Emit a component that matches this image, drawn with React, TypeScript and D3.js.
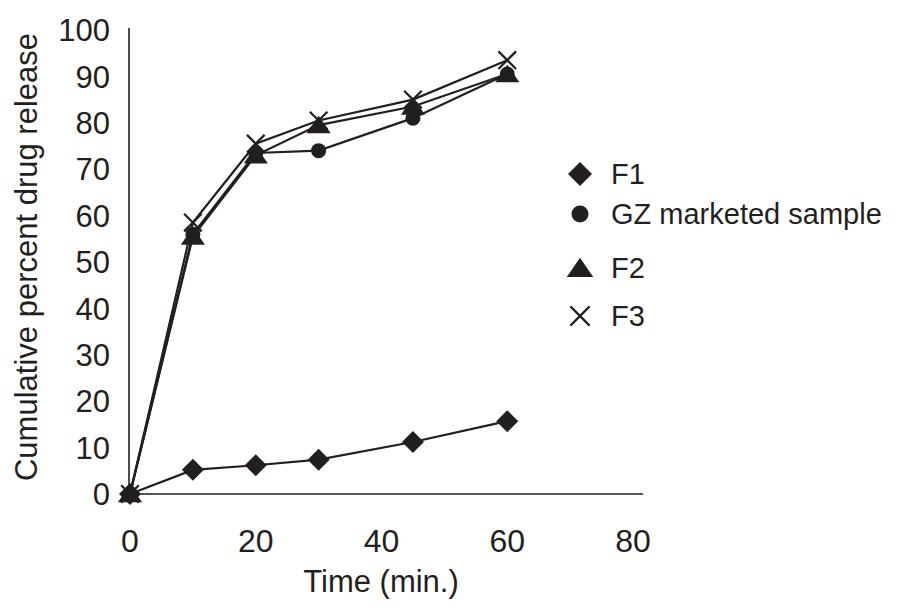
import React, { useEffect, useRef } from 'react'
import * as d3 from 'd3'

// time points (min.)
const times = [0, 10, 20, 30, 45, 60]

// cumulative percent drug release per formulation
const f1 = [0, 5.2, 6.2, 7.4, 11.2, 15.7]
const gz = [0, 56, 73.5, 74, 81, 90.5]
const f2 = [0, 55.5, 73, 79.5, 83.5, 90.5]
const f3 = [0, 58.5, 75.5, 80.5, 85, 93.5]

const seriesNames = ['F1', 'GZ marketed sample', 'F2', 'F3']
const seriesValues = [f1, gz, f2, f3]
const seriesMarkers = ['diamond', 'circle', 'triangle', 'cross']

const xTicks = [0, 20, 40, 60, 80]
const yTicks = [0, 10, 20, 30, 40, 50, 60, 70, 80, 90, 100]

const ink = '#231f20'
const font = '"Liberation Sans", Arial, sans-serif'

// marker path, centred on 0,0
const markerPath = (kind: string, s: number) => {
    if (kind === 'diamond') return `M0,${-s}L${s},0L0,${s}L${-s},0Z`
    if (kind === 'triangle') return `M0,${-s * 0.85}L${s * 1.1},${s * 0.75}L${-s * 1.1},${s * 0.75}Z`
    if (kind === 'cross') return `M${-s * 0.8},${-s * 0.8}L${s * 0.8},${s * 0.8}M${s * 0.8},${-s * 0.8}L${-s * 0.8},${s * 0.8}`
    return d3.symbol(d3.symbolCircle, Math.PI * s * s)() as string
}

const drawMarker = (g: any, kind: string, s: number) => {
    const p = g.append('path').attr('d', markerPath(kind, s))
    if (kind === 'cross') {
        p.attr('fill', 'none').attr('stroke', ink).attr('stroke-width', 2.2)
    } else {
        p.attr('fill', ink)
    }
}

export default function App() {
    const ref = useRef<SVGSVGElement>(null)

    useEffect(() => {
        const svg = d3.select(ref.current)
        svg.selectAll('*').remove()

        const margin = { top: 30, left: 130, bottom: 115 }

        // scales
        const x = d3.scaleLinear().domain([0, 80]).range([margin.left, 633])
        const y = d3.scaleLinear().domain([0, 100]).range([494, margin.top])

        // axis lines
        svg.append('line')
            .attr('x1', x(0) - 1).attr('x2', x(0) - 1)
            .attr('y1', y(100) - 2).attr('y2', y(0))
            .attr('stroke', ink).attr('stroke-width', 1.6)
        svg.append('line')
            .attr('x1', x(0) - 1).attr('x2', x(80) + 10)
            .attr('y1', y(0)).attr('y2', y(0))
            .attr('stroke', ink).attr('stroke-width', 1.6)

        // tick labels
        svg.append('g').selectAll('text')
            .data(xTicks)
            .enter().append('text')
            .attr('x', d => x(d))
            .attr('y', 552)
            .attr('text-anchor', 'middle')
            .attr('font-size', 32)
            .attr('font-family', font)
            .attr('fill', ink)
            .text(d => d)

        svg.append('g').selectAll('text')
            .data(yTicks)
            .enter().append('text')
            .attr('x', 110)
            .attr('y', d => y(d))
            .attr('dy', '0.36em')
            .attr('text-anchor', 'end')
            .attr('font-size', 31)
            .attr('font-family', font)
            .attr('fill', ink)
            .text(d => d)

        // axis titles
        svg.append('text')
            .attr('x', 381).attr('y', 592)
            .attr('text-anchor', 'middle')
            .attr('font-size', 31)
            .attr('font-family', font)
            .attr('fill', ink)
            .text('Time (min.)')

        svg.append('text')
            .attr('transform', 'translate(37, 257) rotate(-90)')
            .attr('text-anchor', 'middle')
            .attr('font-size', 31)
            .attr('font-family', font)
            .attr('fill', ink)
            .text('Cumulative percent drug release')

        // line generator
        const line = d3.line<number>()
            .x((d, i) => x(times[i]))
            .y(d => y(d))

        seriesValues.forEach((vals, k) => {
            const g = svg.append('g')
            g.append('path')
                .attr('d', line(vals))
                .attr('fill', 'none')
                .attr('stroke', ink)
                .attr('stroke-width', 2.2)

            const size = seriesMarkers[k] === 'circle' ? 7.5 : 11
            vals.forEach((v, i) => {
                const m = g.append('g').attr('transform', `translate(${x(times[i])}, ${y(v)})`)
                drawMarker(m, seriesMarkers[k], size)
            })
        })

        // legend
        const legendRows = [174, 214, 268, 316]
        seriesNames.forEach((name, k) => {
            const row = svg.append('g').attr('transform', `translate(580, ${legendRows[k]})`)
            const size = seriesMarkers[k] === 'circle' ? 8.5 : 12
            drawMarker(row, seriesMarkers[k], size)
            row.append('text')
                .attr('x', 31)
                .attr('dy', '0.36em')
                .attr('font-size', 29)
                .attr('font-family', font)
                .attr('fill', ink)
                .text(name)
        })
    }, [])

    return (
        <svg ref={ref} width={901} height={609}
            style={{ position: 'absolute', left: 0, top: 0, background: '#fff' }} />
    )
}
